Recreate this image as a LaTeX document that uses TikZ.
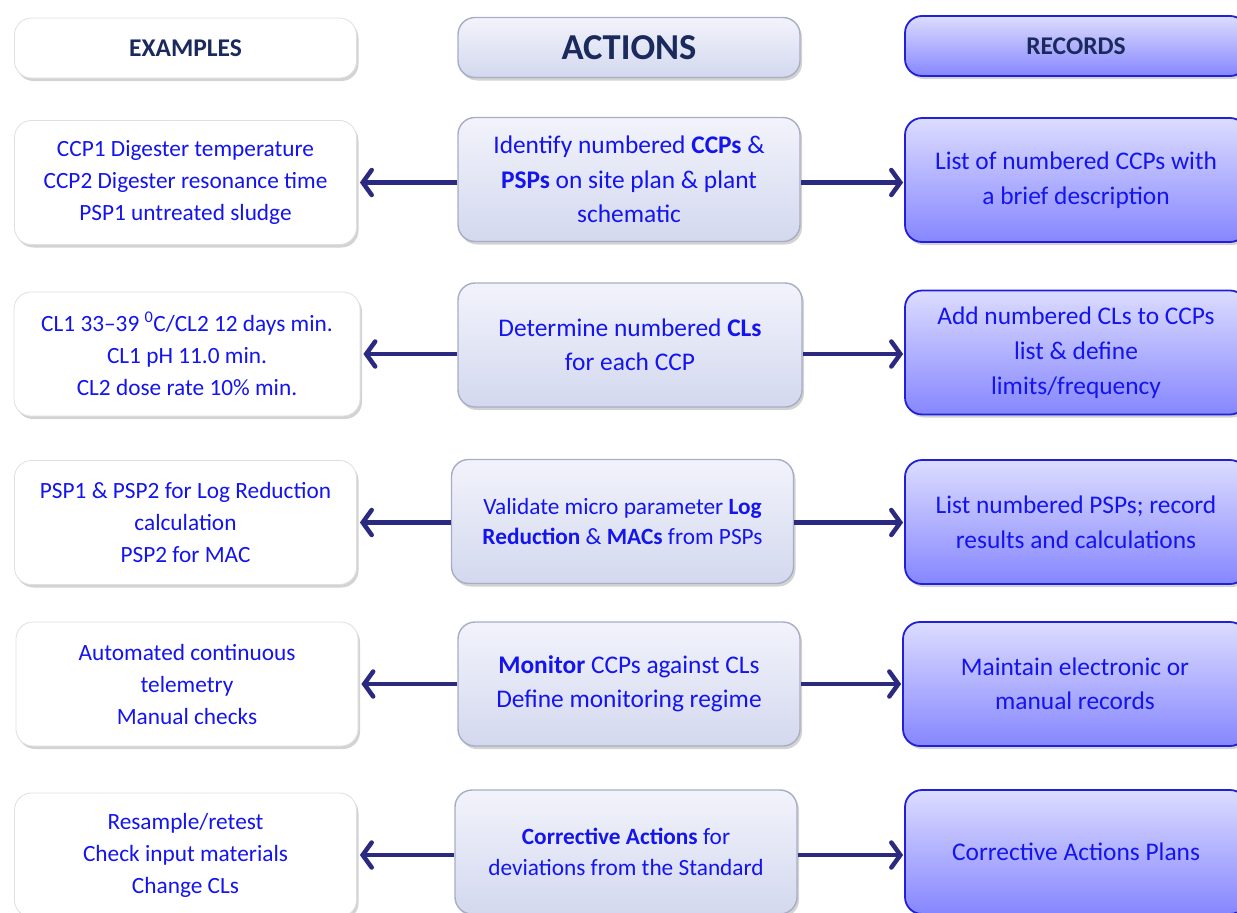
\documentclass[tikz,border=0pt]{standalone}
\usepackage{fontspec}
\setmainfont{Carlito}
\usetikzlibrary{arrows.meta,shadows}
\definecolor{txtblue}{HTML}{1414EE}
\definecolor{navy}{HTML}{1B2A5C}
\definecolor{linkcol}{HTML}{2B2A80}
\definecolor{acttop}{HTML}{F2F3FB}
\definecolor{actbot}{HTML}{D3D8EE}
\definecolor{actline}{HTML}{A8ADC6}
\definecolor{rectop}{HTML}{DCDCFF}
\definecolor{recbot}{HTML}{8686FF}
\definecolor{recline}{HTML}{2020D8}

\begin{document}
\begin{tikzpicture}[x=1pt,y=-1pt,
  box/.style={rounded corners=17pt,align=center,inner sep=0pt,
    minimum width=342pt,minimum height=124pt,text=txtblue,
    font=\fontsize{23.3}{32}\selectfont,
    drop shadow={shadow xshift=2pt,shadow yshift=-3pt,opacity=.35,fill=gray}},
  exbox/.style={box,fill=white,draw=gray!25,line width=.8pt},
  actbox/.style={box,top color=acttop,bottom color=actbot,draw=actline,line width=1.4pt,
    font=\fontsize{25.4}{34.5}\selectfont},
  recbox/.style={box,top color=rectop,bottom color=recbot,draw=recline,line width=1.8pt,
    font=\fontsize{25.4}{34.5}\selectfont},
  hdr/.style={minimum height=60pt,text=navy,font=\fontsize{25.5}{30}\selectfont\bfseries},
  link/.style={draw=linkcol,line width=4.5pt,-{Straight Barb[length=9pt,width=25pt,line cap=round]}}]
\useasboundingbox (0,0) rectangle (1237,913);
% headers
\node[exbox,hdr] (exh) at (185.5,48) {EXAMPLES};
\node[actbox,hdr,font=\fontsize{36.5}{40}\selectfont\bfseries] (acth) at (629,47.5) {ACTIONS};
\node[recbox,hdr] (rech) at (1076,46) {RECORDS};
% row 1
\node[exbox] (ex1) at (185.5,182.5) {CCP1 Digester temperature\\CCP2 Digester resonance time\\PSP1 untreated sludge};
\node[actbox] (act1) at (629,179.5) {Identify numbered \textbf{CCPs} \&\\\textbf{PSPs} on site plan \& plant\\schematic};
\node[recbox] (rec1) at (1076,180) {List of numbered CCPs with\\a brief description};
% row 2
\node[exbox,minimum width=346pt] (ex2) at (187,354) {CL1 33--39 \textsuperscript{0}C/CL2 12 days min.\\CL1 pH 11.0 min.\\CL2 dose rate 10\% min.};
\node[actbox,minimum width=344pt] (act2) at (630,345) {Determine numbered \textbf{CLs}\\for each CCP};
\node[recbox,font=\fontsize{25.4}{35}\selectfont] (rec2) at (1076,352.5) {Add numbered CLs to CCPs\\list \& define\\limits/frequency};
% row 3
\node[exbox] (ex3) at (185.5,522.5) {PSP1 \& PSP2 for Log Reduction\\calculation\\PSP2 for MAC};
\node[actbox,font=\fontsize{23.3}{30.5}\selectfont] (act3) at (622.5,521.5) {Validate micro parameter \textbf{Log}\\\textbf{Reduction} \& \textbf{MACs} from PSPs};
\node[recbox,font=\fontsize{25.4}{35}\selectfont] (rec3) at (1076,522) {List numbered PSPs; record\\results and calculations};
% row 4
\node[exbox] (ex4) at (187,684) {Automated continuous\\telemetry\\Manual checks};
\node[actbox] (act4) at (629,684) {\textbf{Monitor} CCPs against CLs\\Define monitoring regime};
\node[recbox,minimum width=344pt] (rec4) at (1075,684) {Maintain electronic or\\manual records};
% row 5
\node[exbox] (ex5) at (185.5,855) {Resample/retest\\Check input materials\\Change CLs};
\node[actbox,font=\fontsize{23.3}{31}\selectfont] (act5) at (626,852) {\textbf{Corrective Actions} for\\deviations from the Standard};
\node[recbox] (rec5) at (1076,852) {Corrective Actions Plans};
% connectors
\foreach \i in {1,...,5}{
  \draw[link,shorten >=3pt] (ex\i.east -| act\i.west) -- (ex\i.east);
  \draw[link,shorten >=1pt] (ex\i.east -| act\i.east) -- (ex\i.east -| rec\i.west);
}
\end{tikzpicture}
\end{document}
